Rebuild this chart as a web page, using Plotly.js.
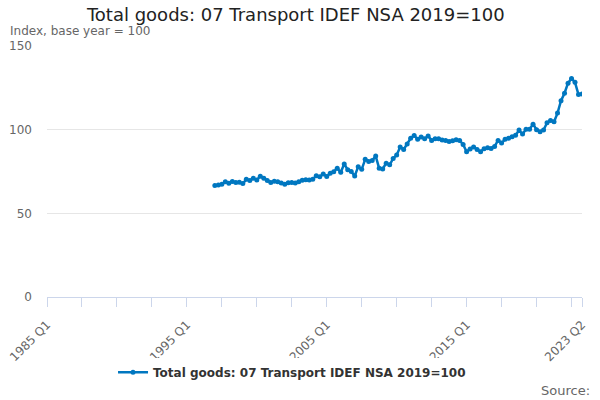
<!DOCTYPE html>
<html>
<head>
<meta charset="utf-8">
<script src="https://cdn.plot.ly/plotly-3.0.1.min.js"></script>
<style>html,body{margin:0;padding:0;background:#fff;}#chart{width:600px;height:400px;}</style>
</head>
<body>
<div id="chart"></div>
<script>
// Quarter categories 1985 Q1 .. 2023 Q2
var firstYear = 1985, lastYear = 2023, lastQuarter = 2;
var categories = [];
for (var y = firstYear; y <= lastYear; y++) {
  for (var q = 1; q <= 4; q++) {
    if (y === lastYear && q > lastQuarter) break;
    categories.push(y + ' Q' + q);
  }
}
// Series starts in 1997 Q1
var seriesStart = '1997 Q1';
var seriesValues = [
  66.6, 66.9, 67.4, 68.9, 68.0, 69.0, 68.4, 68.6, 67.8, 70.3,
  69.6, 71.0, 69.9, 72.2, 71.0, 69.6, 68.5, 69.2, 68.8, 68.1,
  67.4, 68.3, 68.5, 68.1, 68.9, 69.7, 70.0, 69.9, 70.4, 72.4,
  71.9, 73.5, 72.0, 73.9, 74.9, 76.9, 74.5, 79.5, 76.0, 75.0,
  72.3, 77.9, 76.3, 82.3, 81.0, 81.5, 84.2, 76.9, 76.5, 80.0,
  79.0, 82.8, 84.8, 89.6, 88.2, 91.4, 94.8, 96.5, 94.2, 95.6,
  94.6, 96.2, 93.6, 94.6, 94.6, 93.8, 93.6, 92.9, 93.4, 94.0,
  93.6, 91.2, 86.8, 88.5, 89.6, 88.2, 86.8, 88.6, 89.2, 88.8,
  90.0, 93.6, 92.0, 94.2, 94.8, 95.8, 96.6, 99.8, 97.4, 100.2,
  100.2, 103.3, 100.0, 98.8, 99.8, 104.1, 105.5, 104.7, 109.9, 117.3,
  121.8, 127.8, 130.6, 128.3, 121.0, 121.3
];
var seriesName = 'Total goods: 07 Transport IDEF NSA 2019=100';
var titleText = 'Total goods: 07 Transport IDEF NSA 2019=100';
var yAxisLabel = 'Index, base year = 100';
var sourceText = 'Source:';
var labelledTicks = ['1985 Q1', '1995 Q1', '2005 Q1', '2015 Q1', '2023 Q2'];

var startIdx = categories.indexOf(seriesStart);
var xs = categories.slice(startIdx, startIdx + seriesValues.length);

var tickvals = [], ticktext = [];
for (var i = 0; i < categories.length; i += 10) {
  tickvals.push(categories[i]);
  ticktext.push(labelledTicks.indexOf(categories[i]) >= 0 ? categories[i] : '');
}
tickvals.push(categories[categories.length - 1]);
ticktext.push(categories[categories.length - 1]);

var font = 'DejaVu Sans, sans-serif';
var trace = {
  x: xs, y: seriesValues, name: seriesName,
  type: 'scatter', mode: 'lines+markers',
  line: {color: '#0077c0', width: 2.5},
  marker: {color: '#0077c0', size: 5},
  hoverinfo: 'x+y'
};
var layout = {
  width: 600, height: 400,
  margin: {l: 47, r: 18, t: 46, b: 103},
  paper_bgcolor: '#fff', plot_bgcolor: '#fff',
  font: {family: font, color: '#666', size: 12},
  title: {text: titleText, font: {family: font, size: 18, color: '#222'}, x: 0.493, xanchor: 'center', y: 0.964, yanchor: 'middle'},
  xaxis: {
    type: 'category', categoryorder: 'array', categoryarray: categories,
    range: [0, categories.length - 1],
    tickmode: 'array', tickvals: tickvals, ticktext: ticktext,
    tickangle: -45, ticks: 'outside', ticklen: 9, tickcolor: '#ccd6eb', tickwidth: 1,
    ticklabelstandoff: 6,
    showline: true, linecolor: '#ccd6eb', linewidth: 1,
    showgrid: false, zeroline: false,
    tickfont: {family: font, size: 12, color: '#666'}
  },
  yaxis: {
    range: [0, 150], tickvals: [0, 50, 100, 150],
    showgrid: true, gridcolor: '#e6e6e6', gridwidth: 1,
    zeroline: false, showline: false,
    ticklabelstandoff: 14,
    tickfont: {family: font, size: 12, color: '#666'}
  },
  showlegend: true,
  legend: {
    orientation: 'h', x: 0.458, xanchor: 'center', y: -0.3, yanchor: 'middle',
    font: {family: font, size: 12, color: '#333', weight: 'bold'},
    itemwidth: 30
  },
  annotations: [
    {text: yAxisLabel, xref: 'paper', yref: 'paper', x: -0.073, y: 1.06, xanchor: 'left', yanchor: 'middle', showarrow: false, font: {family: font, size: 12, color: '#666'}},
    {text: sourceText, xref: 'paper', yref: 'paper', x: 1.018, y: -0.372, xanchor: 'right', yanchor: 'middle', showarrow: false, font: {family: font, size: 13, color: '#666'}}
  ]
};
Plotly.newPlot('chart', [trace], layout, {displayModeBar: false, staticPlot: true});
</script>
</body>
</html>
